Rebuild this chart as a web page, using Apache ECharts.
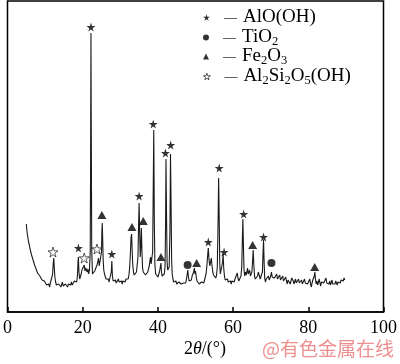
<!DOCTYPE html>
<html>
<head>
<meta charset="utf-8">
<script src="https://cdn.jsdelivr.net/npm/echarts@6/dist/echarts.min.js"></script>
<style>
  html, body { margin: 0; padding: 0; background: #fff; }
  #xrd { width: 400px; height: 364px; }
</style>
</head>
<body>
<div id="xrd"></div>
<script>
// XRD 图谱: [2θ, 强度]
const pattern = [
  [5.0,88],[5.2,80],[5.4,75],[5.6,70],[5.8,67],[6.0,63],[6.2,61],[6.4,57],[6.6,55],[6.8,52],
  [7.0,50],[7.2,47],[7.4,46],[7.6,43],[7.8,42],[8.0,39],[8.2,40],[8.4,37],[8.6,36],[8.8,34],
  [9.0,35],[9.2,32],[9.4,33],[9.6,30],[9.8,31],[10.0,29],[10.2,30],[10.4,27],[10.6,29],[10.8,26],
  [11.0,28],[11.2,25],[11.4,29],[11.6,27],[11.8,31],[12.0,38],[12.15,48],[12.3,54],[12.45,44],[12.6,35],
  [12.8,30],[13.0,27],[13.2,29],[13.4,25],[13.6,28],[13.8,26],[14.0,29],[14.2,25],[14.4,27],[14.6,30],
  [14.8,26],[15.0,28],[15.2,24],[15.4,28],[15.6,26],[15.8,29],[16.0,25],[16.2,28],[16.4,26],[16.6,29],
  [16.8,27],[17.0,30],[17.2,27],[17.4,29],[17.6,28],[17.8,31],[18.0,29],[18.2,31],[18.4,30],[18.6,36],
  [18.75,50],[18.85,55],[19.0,40],[19.2,33],[19.4,35],[19.6,38],[19.8,42],[20.0,40],[20.2,44],[20.4,47],
  [20.6,41],[20.8,44],[21.0,46],[21.2,40],[21.4,43],[21.6,38],[21.8,42],[22.0,60],[22.1,150],[22.2,279],
  [22.3,160],[22.4,62],[22.6,38],[22.8,40],[23.0,37],[23.2,41],[23.4,39],[23.6,43],[23.8,47],[24.0,50],
  [24.2,54],[24.4,46],[24.6,44],[24.8,48],[25.0,60],[25.1,80],[25.2,89],[25.3,75],[25.45,52],[25.6,42],
  [25.8,38],[26.0,36],[26.2,33],[26.4,35],[26.6,31],[26.8,33],[27.0,30],[27.2,32],[27.4,31],[27.6,40],
  [27.75,51],[27.9,36],[28.1,31],[28.3,33],[28.5,30],[28.7,32],[28.9,29],[29.1,31],[29.3,30],[29.5,33],
  [29.7,30],[29.9,32],[30.1,29],[30.3,31],[30.5,28],[30.7,31],[30.9,29],[31.1,32],[31.3,30],[31.5,33],
  [31.7,31],[31.9,34],[32.1,33],[32.3,37],[32.5,45],[32.7,60],[32.85,74],[33.0,78],[33.15,62],[33.3,48],
  [33.5,40],[33.7,37],[33.9,38],[34.1,36],[34.3,40],[34.5,42],[34.7,55],[34.85,85],[35.0,109],[35.15,80],
  [35.3,55],[35.45,65],[35.6,84],[35.75,62],[35.9,45],[36.1,40],[36.3,38],[36.5,40],[36.7,37],[36.9,39],
  [37.1,36],[37.3,40],[37.5,42],[37.7,46],[37.9,52],[38.05,55],[38.2,48],[38.4,50],[38.6,60],[38.75,120],
  [38.9,182],[39.05,90],[39.2,48],[39.4,38],[39.6,36],[39.8,38],[40.0,35],[40.2,37],[40.4,40],[40.6,44],
  [40.8,49],[40.95,40],[41.1,36],[41.3,38],[41.5,35],[41.7,38],[41.9,45],[42.05,90],[42.15,153],[42.3,95],
  [42.45,50],[42.6,42],[42.8,40],[43.0,45],[43.2,80],[43.35,158],[43.5,110],[43.65,52],[43.8,38],[44.0,33],
  [44.2,30],[44.4,32],[44.6,29],[44.8,31],[45.0,28],[45.2,30],[45.4,27],[45.6,30],[45.8,28],[46.0,31],
  [46.2,28],[46.4,30],[46.6,27],[46.8,29],[47.0,28],[47.2,31],[47.4,29],[47.6,33],[47.8,38],[47.95,42],
  [48.1,36],[48.3,31],[48.5,30],[48.7,33],[48.9,32],[49.1,36],[49.3,34],[49.5,40],[49.7,44],[49.85,38],
  [50.0,41],[50.2,35],[50.4,31],[50.6,29],[50.8,31],[51.0,28],[51.2,30],[51.4,27],[51.6,30],[51.8,28],
  [52.0,31],[52.2,29],[52.4,32],[52.6,34],[52.8,38],[53.0,45],[53.2,55],[53.4,64],[53.6,52],[53.8,46],
  [54.0,50],[54.2,54],[54.4,46],[54.6,40],[54.8,37],[55.0,35],[55.2,36],[55.4,34],[55.6,37],[55.8,45],
  [56.0,90],[56.15,134],[56.3,95],[56.45,48],[56.6,38],[56.8,36],[57.0,40],[57.2,50],[57.35,58],[57.5,44],
  [57.7,36],[57.9,32],[58.1,34],[58.3,31],[58.5,33],[58.7,30],[58.9,32],[59.1,29],[59.3,31],[59.5,28],
  [59.7,31],[59.9,29],[60.1,32],[60.3,30],[60.5,33],[60.7,31],[60.9,35],[61.1,39],[61.3,34],[61.5,31],
  [61.7,33],[61.9,32],[62.1,36],[62.3,45],[62.45,70],[62.6,93],[62.75,66],[62.9,42],[63.1,36],[63.3,40],
  [63.5,37],[63.7,41],[63.85,44],[64.0,38],[64.2,40],[64.4,42],[64.6,36],[64.8,34],[65.0,40],[65.2,52],
  [65.35,62],[65.5,48],[65.7,36],[65.9,33],[66.1,35],[66.3,33],[66.5,36],[66.7,40],[66.85,42],[67.0,36],
  [67.2,33],[67.4,31],[67.6,34],[67.8,40],[67.95,58],[68.1,72],[68.25,50],[68.4,34],[68.6,30],[68.8,33],
  [69.0,31],[69.2,34],[69.4,36],[69.6,32],[69.8,34],[70.0,36],[70.2,40],[70.4,35],[70.6,33],[70.8,37],
  [71.0,34],[71.2,32],[71.4,36],[71.6,38],[71.8,33],[72.0,31],[72.2,35],[72.4,37],[72.6,32],[72.8,30],
  [73.0,34],[73.2,36],[73.4,31],[73.6,29],[73.8,33],[74.0,35],[74.2,31],[74.4,28],[74.6,32],[74.8,34],
  [75.0,30],[75.2,28],[75.4,31],[75.6,34],[75.8,36],[76.0,31],[76.2,28],[76.4,30],[76.6,33],[76.8,29],
  [77.0,27],[77.2,31],[77.4,33],[77.6,29],[77.8,27],[78.0,30],[78.2,32],[78.4,28],[78.6,26],[78.8,30],
  [79.0,33],[79.2,29],[79.4,27],[79.6,31],[79.8,28],[80.0,26],[80.2,30],[80.4,33],[80.6,28],[80.8,25],
  [81.0,29],[81.2,32],[81.4,30],[81.6,36],[81.75,40],[81.9,33],[82.1,28],[82.3,31],[82.5,27],[82.7,30],
  [82.9,33],[83.1,29],[83.3,26],[83.5,30],[83.7,28],[83.9,32],[84.1,29],[84.3,27],[84.5,31],[84.7,34],
  [84.9,29],[85.1,27],[85.3,30],[85.5,28],[85.7,31],[85.9,27],[86.1,29],[86.3,32],[86.5,28],[86.7,26],
  [86.9,30],[87.1,28],[87.3,31],[87.5,29],[87.7,27],[87.9,30],[88.1,28],[88.3,31],[88.5,29],[88.7,32],
  [88.9,30],[89.1,33],[89.3,31],[89.5,34],[89.7,32],[89.9,35]
];

// 物相标记位置 [2θ, 强度]
const aloohMarks = [[18.85,64],[22.2,285],[27.75,58],[35.0,116],[38.75,188],[42.0,159],[43.4,167],[53.4,70],[56.3,144],[57.6,60],[62.8,98],[68.1,75]];
const tio2Marks = [[47.9,47],[70.2,49]];
const fe2o3Marks = [[25.1,97],[33.1,85],[36.1,91],[40.8,55],[50.3,49],[65.2,67],[81.7,45]];
const kaolinMarks = [[12.1,60],[20.4,54],[23.8,63]];

const xTicks = [0, 20, 40, 60, 80, 100];

const phaseNames = ['AlO(OH)', 'TiO2', 'Fe2O3', 'Al2Si2O5(OH)'];
const phaseLabels = {
  'AlO(OH)': '{d|—}AlO(OH)',
  'TiO2': '{d|—}TiO{s|2}',
  'Fe2O3': '{d|—}Fe{s|2}O{s|3}',
  'Al2Si2O5(OH)': '{d|—}Al{s|2}Si{s|2}O{s|5}(OH)'
};

const starPath = 'path://M50,0 L61,35 L98,35 L68,57 L79,91 L50,70 L21,91 L32,57 L2,35 L39,35 Z';
const serif = '"Liberation Serif", "Times New Roman", serif';

let chart = echarts.init(document.getElementById('xrd'));

function phaseLegend(name, icon, size, style, top) {
  return {
    data: [{ name: name, icon: icon, itemStyle: style }],
    orient: 'vertical',
    left: 203,
    top: top,
    padding: 0,
    itemWidth: size,
    itemHeight: size,
    selectedMode: false,
    formatter: function (n) { return phaseLabels[n]; },
    textStyle: {
      fontFamily: serif,
      fontSize: 19,
      color: '#000',
      rich: {
        d: { fontSize: 13, padding: [0, 6, 0, 9], color: '#000' },
        s: { fontSize: 12.5, padding: [8, 0, 0, 0], fontFamily: serif, color: '#000' }
      }
    }
  };
}

const solid = { color: '#000', borderWidth: 0 };
const hollow = { color: '#fff', borderColor: '#000', borderWidth: 0.8 };

let option = {
  animation: false,
  grid: {
    left: 3, right: 15, top: 1, bottom: 52,
    show: true,
    borderColor: '#000',
    borderWidth: 1.5
  },
  legend: [
    phaseLegend(phaseNames[0], starPath, 7, solid, 8),
    phaseLegend(phaseNames[1], 'circle', 6, solid, 28),
    phaseLegend(phaseNames[2], 'triangle', 6, solid, 47),
    phaseLegend(phaseNames[3], starPath, 7, hollow, 67)
  ],
  xAxis: {
    type: 'value',
    min: xTicks[0],
    max: xTicks[xTicks.length - 1],
    interval: 20,
    splitLine: { show: false },
    axisLine: { lineStyle: { color: '#000', width: 1.5 } },
    axisTick: { inside: true, length: 5, lineStyle: { color: '#000', width: 1.5 } },
    axisLabel: { margin: 7, fontSize: 18, fontFamily: serif, color: '#000', showMinLabel: true, showMaxLabel: true }
  },
  yAxis: {
    type: 'value',
    min: 0,
    max: 311,
    show: false
  },
  graphic: [
    {
      type: 'text',
      left: 184,
      top: 340,
      style: {
        text: '2{i|θ}/(°)',
        fontFamily: serif,
        fontSize: 18,
        fill: '#000',
        rich: { i: { fontStyle: 'italic', fontFamily: serif, fontSize: 18 } }
      }
    },
    {
      type: 'text',
      left: 262,
      top: 339,
      style: {
        text: '@有色金属在线',
        fontFamily: '"Noto Sans CJK SC", sans-serif',
        fontSize: 19,
        fill: '#ee8f8f'
      }
    }
  ],
  series: [
    {
      name: 'pattern',
      type: 'line',
      data: pattern,
      showSymbol: false,
      sampling: false,
      lineStyle: { color: '#1a1a1a', width: 1.1 },
      silent: true,
      z: 2
    },
    {
      name: phaseNames[0],
      type: 'scatter',
      data: aloohMarks,
      symbol: starPath,
      symbolSize: 9,
      itemStyle: solid,
      z: 3
    },
    {
      name: phaseNames[1],
      type: 'scatter',
      data: tio2Marks,
      symbol: 'circle',
      symbolSize: 8,
      itemStyle: solid,
      z: 3
    },
    {
      name: phaseNames[2],
      type: 'scatter',
      data: fe2o3Marks,
      symbol: 'triangle',
      symbolSize: [9, 8],
      itemStyle: solid,
      z: 3
    },
    {
      name: phaseNames[3],
      type: 'scatter',
      data: kaolinMarks,
      symbol: starPath,
      symbolSize: 10,
      itemStyle: hollow,
      z: 3
    }
  ]
};

chart.setOption(option);
</script>
</body>
</html>
